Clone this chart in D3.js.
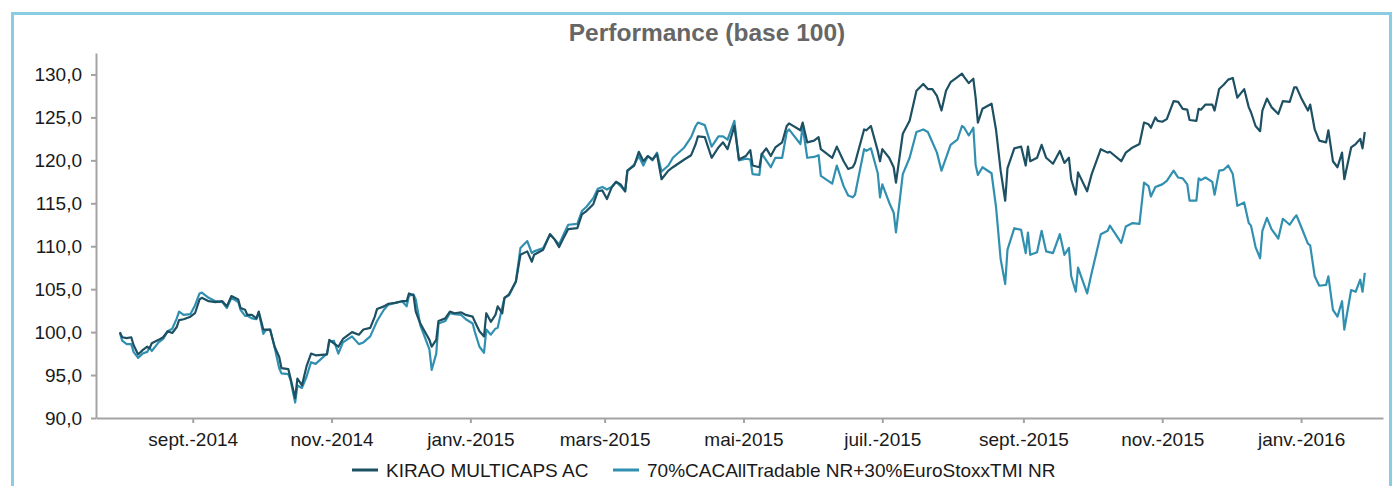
<!DOCTYPE html>
<html>
<head>
<meta charset="utf-8">
<script src="https://cdn.jsdelivr.net/npm/d3@7"></script>
<style>
  body { margin: 0; background: #fff; }
  svg { font-family: "Liberation Sans", Arial, sans-serif; display: block; }
  .axis path, .axis line { stroke: #a3a3a3; stroke-width: 2; }
  .axis text { font-size: 19px; fill: #1a1a1a; }
</style>
</head>
<body>
<div id="chart"></div>
<script>
  // dates of the readings (shared by both series)
  var dates = [
    "2014-07-31","2014-08-01","2014-08-03","2014-08-05","2014-08-06","2014-08-08","2014-08-10","2014-08-12","2014-08-13","2014-08-14",
    "2014-08-17","2014-08-19","2014-08-21","2014-08-23","2014-08-25","2014-08-26","2014-08-28","2014-08-31","2014-09-02","2014-09-04",
    "2014-09-05","2014-09-08","2014-09-11","2014-09-14","2014-09-16","2014-09-18","2014-09-21","2014-09-22","2014-09-24","2014-09-25",
    "2014-09-27","2014-09-29","2014-09-30","2014-10-02","2014-10-03","2014-10-05","2014-10-07","2014-10-09","2014-10-10","2014-10-13",
    "2014-10-14","2014-10-16","2014-10-17","2014-10-19","2014-10-21","2014-10-23","2014-10-25","2014-10-30","2014-10-31","2014-11-02",
    "2014-11-04","2014-11-06","2014-11-10","2014-11-13","2014-11-15","2014-11-18","2014-11-20","2014-11-21","2014-11-24","2014-11-26",
    "2014-11-29","2014-12-02","2014-12-04","2014-12-05","2014-12-07","2014-12-08","2014-12-10","2014-12-14","2014-12-15","2014-12-17",
    "2014-12-18","2014-12-21","2014-12-23","2014-12-25","2014-12-28","2014-12-30","2015-01-02","2015-01-03","2015-01-05","2015-01-07",
    "2015-01-08","2015-01-10","2015-01-12","2015-01-13","2015-01-15","2015-01-16","2015-01-18","2015-01-21","2015-01-23","2015-01-26",
    "2015-01-28","2015-01-29","2015-02-02","2015-02-05","2015-02-07","2015-02-09","2015-02-11","2015-02-13","2015-02-17","2015-02-19",
    "2015-02-21","2015-02-24","2015-02-26","2015-02-28","2015-03-02","2015-03-04","2015-03-06","2015-03-08","2015-03-10","2015-03-11",
    "2015-03-14","2015-03-16","2015-03-18","2015-03-20","2015-03-22","2015-03-24","2015-03-26","2015-03-29","2015-03-31","2015-04-05",
    "2015-04-08","2015-04-10","2015-04-11","2015-04-14","2015-04-17","2015-04-20","2015-04-22","2015-04-24","2015-04-27","2015-04-29",
    "2015-05-02","2015-05-04","2015-05-05","2015-05-08","2015-05-09","2015-05-11","2015-05-13","2015-05-15","2015-05-18","2015-05-20",
    "2015-05-21","2015-05-26","2015-05-27","2015-05-29","2015-06-01","2015-06-03","2015-06-04","2015-06-09","2015-06-11","2015-06-14",
    "2015-06-16","2015-06-18","2015-06-19","2015-06-23","2015-06-24","2015-06-26","2015-06-29","2015-06-30","2015-07-01","2015-07-04",
    "2015-07-06","2015-07-07","2015-07-10","2015-07-13","2015-07-16","2015-07-19","2015-07-21","2015-07-23","2015-07-25","2015-07-27",
    "2015-07-29","2015-07-31","2015-08-03","2015-08-05","2015-08-06","2015-08-08","2015-08-10","2015-08-11","2015-08-12","2015-08-14",
    "2015-08-18","2015-08-20","2015-08-22","2015-08-24","2015-08-25","2015-08-28","2015-08-31","2015-09-02","2015-09-03","2015-09-04",
    "2015-09-07","2015-09-09","2015-09-11","2015-09-14","2015-09-17","2015-09-19","2015-09-21","2015-09-22","2015-09-24","2015-09-25",
    "2015-09-29","2015-10-01","2015-10-05","2015-10-08","2015-10-09","2015-10-14","2015-10-16","2015-10-19","2015-10-22","2015-10-24",
    "2015-10-26","2015-10-27","2015-10-29","2015-10-30","2015-11-01","2015-11-03","2015-11-06","2015-11-08","2015-11-10","2015-11-12",
    "2015-11-13","2015-11-16","2015-11-17","2015-11-18","2015-11-20","2015-11-23","2015-11-24","2015-11-26","2015-11-28","2015-11-30",
    "2015-12-02","2015-12-04","2015-12-07","2015-12-09","2015-12-10","2015-12-12","2015-12-14","2015-12-15","2015-12-17","2015-12-19",
    "2015-12-22","2015-12-24","2015-12-27","2015-12-29","2015-12-30","2016-01-01","2016-01-04","2016-01-05","2016-01-07","2016-01-09",
    "2016-01-12","2016-01-13","2016-01-15","2016-01-17","2016-01-19","2016-01-20","2016-01-23","2016-01-25","2016-01-27","2016-01-28",
    "2016-01-29"
  ];

  var kirao = [
    100.0,99.4,99.3,99.4,98.5,97.4,97.9,98.3,98.1,98.7,
    99.1,99.4,100.1,99.9,100.6,101.4,101.5,101.8,102.2,103.8,
    104.0,103.6,103.5,103.6,103.0,104.2,103.8,102.8,102.6,102.0,
    102.0,101.6,102.4,100.3,100.3,100.3,98.3,97.1,95.8,95.7,
    94.6,92.3,94.6,93.8,96.0,97.5,97.3,97.4,99.1,98.7,
    98.3,99.2,100.0,99.7,100.3,100.5,101.8,102.7,103.0,103.3,
    103.4,103.6,103.6,104.5,104.3,102.4,101.0,99.1,98.3,99.1,
    101.3,101.6,102.4,102.2,102.3,102.0,101.8,101.2,100.1,99.5,
    102.2,101.2,102.0,103.0,102.2,104.0,104.4,105.9,109.0,109.4,
    108.2,109.0,109.6,111.4,110.8,109.9,111.0,112.0,112.1,113.7,
    114.1,114.9,116.4,116.5,115.5,116.8,117.5,117.2,116.4,118.8,
    119.4,121.0,119.9,120.5,120.1,120.7,117.8,118.8,119.2,120.1,
    120.6,121.9,122.8,122.7,120.3,121.5,122.1,121.3,124.0,120.1,
    120.5,121.2,119.4,119.2,120.7,121.4,120.5,121.5,122.1,124.0,
    124.3,123.5,124.4,122.1,122.3,122.7,121.3,120.3,121.6,119.9,
    119.0,119.2,119.7,123.6,123.5,124.0,121.1,119.9,121.3,120.3,
    119.2,117.4,123.1,124.6,128.1,128.9,128.3,128.3,127.5,125.8,
    128.1,129.1,129.7,130.1,129.7,129.0,129.5,127.3,124.4,126.0,
    126.6,123.5,118.8,115.3,119.1,121.4,121.6,119.4,121.6,119.9,
    120.3,121.8,120.3,119.6,121.1,119.7,120.3,117.8,116.0,118.6,
    116.4,118.4,121.3,120.9,121.0,119.9,120.9,121.5,121.9,124.4,
    124.2,123.8,125.0,124.6,124.5,124.8,126.9,126.8,126.0,125.9,
    124.7,124.6,126.0,125.9,126.5,126.5,125.8,128.3,128.8,129.4,
    129.6,127.3,128.3,126.2,125.6,124.0,123.4,125.8,127.2,126.2,
    125.4,126.9,126.8,128.5,128.5,127.3,125.8,126.5,123.6,122.3,
    122.1,123.5,119.9,119.2,120.9,117.8,121.5,121.9,122.5,121.4,
    123.3
  ];

  var indice = [
    99.9,99.0,98.6,98.6,97.7,97.0,97.5,97.7,98.2,97.8,
    98.8,99.2,100.1,100.4,101.6,102.4,102.0,102.1,103.1,104.5,
    104.6,104.0,103.6,103.5,102.8,104.0,103.5,102.6,101.9,101.9,
    101.6,101.5,102.3,99.8,100.2,100.3,98.2,95.8,95.2,95.1,
    94.4,91.8,93.8,93.5,94.8,96.5,96.3,97.5,98.9,99.0,
    97.5,98.8,99.5,98.6,98.8,99.5,100.7,101.3,102.6,103.2,
    103.4,103.6,103.0,104.2,104.4,103.8,100.8,98.0,95.6,97.5,
    101.0,101.3,102.2,102.1,102.0,101.5,101.0,100.0,98.3,97.6,
    100.3,99.7,100.4,100.5,102.9,104.0,104.3,105.9,109.8,110.6,
    109.2,109.4,109.8,111.4,110.8,110.2,111.4,112.5,112.6,114.1,
    114.6,115.6,116.7,116.9,116.6,116.9,117.5,117.0,116.4,118.8,
    119.5,120.5,119.4,120.5,120.0,120.9,118.7,119.4,120.3,121.5,
    122.7,124.0,124.4,124.1,121.6,122.8,122.8,122.4,124.6,120.0,
    120.2,120.1,118.4,118.3,120.8,120.0,119.2,120.3,120.3,123.3,
    123.6,121.9,124.0,120.3,120.4,120.6,118.2,117.3,119.4,117.0,
    115.9,115.7,116.0,121.3,121.1,121.4,118.5,115.7,117.2,115.1,
    113.9,111.6,118.4,120.3,123.3,123.6,123.3,122.1,120.9,118.8,
    120.3,121.8,122.4,124.0,123.8,122.9,123.8,119.5,118.3,119.2,
    118.5,114.5,108.5,105.6,109.6,112.1,111.9,109.2,111.6,109.0,
    109.3,111.8,109.4,109.2,111.4,109.0,109.8,106.5,104.7,107.5,
    104.5,106.9,111.4,111.8,112.4,110.4,112.3,112.7,112.6,117.4,
    117.0,115.8,116.9,117.0,117.2,117.6,118.8,118.0,117.9,117.2,
    115.3,115.3,117.9,117.7,118.0,117.5,116.0,118.8,118.9,119.4,
    118.4,114.7,115.1,112.7,112.4,109.9,108.6,111.8,113.3,112.0,
    110.9,113.2,112.5,113.3,113.6,112.3,110.3,110.1,106.5,105.4,
    105.5,106.5,102.6,101.8,103.6,100.3,104.9,104.7,106.1,104.7,
    106.9
  ];

  var seriesNames = ["KIRAO MULTICAPS AC", "70%CACAllTradable NR+30%EuroStoxxTMI NR"];
  var seriesColors = ["#1d5063", "#3190b0"];

  var xTickDates = ["2014-09-01","2014-11-01","2015-01-01","2015-03-01","2015-05-01","2015-07-01","2015-09-01","2015-11-01","2016-01-01"];
  var xTickLabels = ["sept.-2014","nov.-2014","janv.-2015","mars-2015","mai-2015","juil.-2015","sept.-2015","nov.-2015","janv.-2016"];
  var yTicks = [90, 95, 100, 105, 110, 115, 120, 125, 130];

  var width = 1394, height = 486;
  var parse = d3.utcParse("%Y-%m-%d");

  var svg = d3.select("#chart").append("svg")
      .attr("width", width)
      .attr("height", height);

  // cadre bleu
  svg.append("rect")
      .attr("x", 12.5).attr("y", 13.5)
      .attr("width", 1378).attr("height", 520)
      .attr("fill", "none")
      .attr("stroke", "#8accE2")
      .attr("stroke-width", 3);

  svg.append("text")
      .attr("x", 707).attr("y", 41)
      .attr("text-anchor", "middle")
      .attr("font-size", 24.5)
      .attr("font-weight", "bold")
      .attr("fill", "#666")
      .text("Performance (base 100)");

  var x = d3.scaleUtc()
      .domain([new Date(Date.UTC(2014, 6, 20, 12)), new Date(Date.UTC(2016, 1, 6))])
      .range([96, 1383]);

  var y = d3.scaleLinear()
      .domain([90, 132.5])
      .range([418, 53]);

  var fmt = function(d) { return d3.format(".1f")(d).replace(".", ","); };

  svg.append("g")
      .attr("class", "axis")
      .attr("transform", "translate(96,0)")
      .call(d3.axisLeft(y).tickValues(yTicks).tickSize(5).tickPadding(9).tickSizeOuter(0).tickFormat(fmt));

  svg.append("g")
      .attr("class", "axis")
      .attr("transform", "translate(0,418)")
      .call(d3.axisBottom(x)
        .tickValues(xTickDates.map(parse))
        .tickSize(5).tickPadding(10).tickSizeOuter(0)
        .tickFormat(function(d, i) { return xTickLabels[i]; }));

  var line = d3.line()
      .x(function(d) { return x(d.date); })
      .y(function(d) { return y(d.value); });

  var series = [kirao, indice].map(function(vals, k) {
    return {
      name: seriesNames[k],
      color: seriesColors[k],
      values: vals.map(function(v, i) { return { date: parse(dates[i]), value: v }; })
    };
  });

  // le benchmark dessous, le fonds par-dessus
  svg.selectAll(".serie")
      .data(series.slice().reverse())
    .enter().append("path")
      .attr("class", "serie")
      .attr("d", function(d) { return line(d.values); })
      .attr("fill", "none")
      .attr("stroke", function(d) { return d.color; })
      .attr("stroke-width", 2.2)
      .attr("stroke-linejoin", "round");

  // légende
  var legendX = [352, 613];
  var legend = svg.selectAll(".legend")
      .data(series)
    .enter().append("g")
      .attr("class", "legend")
      .attr("transform", function(d, i) { return "translate(" + legendX[i] + ",470)"; });

  legend.append("line")
      .attr("x1", 0).attr("x2", 26)
      .attr("stroke", function(d) { return d.color; })
      .attr("stroke-width", 3);

  legend.append("text")
      .attr("x", 34).attr("y", 7)
      .attr("font-size", 19)
      .attr("fill", "#1a1a1a")
      .text(function(d) { return d.name; });
</script>
</body>
</html>
